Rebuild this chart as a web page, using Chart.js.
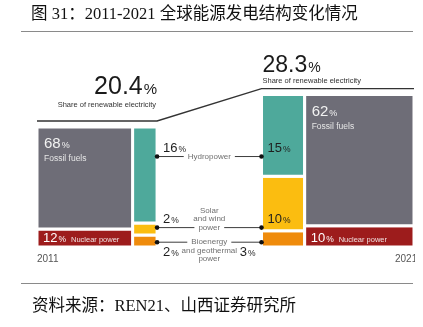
<!DOCTYPE html>
<html>
<head>
<meta charset="utf-8">
<script src="https://cdn.jsdelivr.net/npm/chart.js@4.4.0/dist/chart.umd.min.js"></script>
<style>
    body { margin: 0; width: 423px; height: 327px; position: relative; background: #fff; overflow: hidden; }
    canvas { position: absolute; left: 0; top: 0; }
    .txt { position: absolute; font-family: "Liberation Serif", "Noto Sans CJK SC", serif; font-size: 16.5px; color: #111; white-space: nowrap; }
    .rule { position: absolute; left: 21px; width: 392px; height: 0; border-top: 1.5px solid #8a8a8a; }
</style>
</head>
<body>
<canvas id="chart" width="423" height="327"></canvas>
<div class="txt" style="left:31px;top:0px;">图 31：2011-2021 全球能源发电结构变化情况</div>
<div class="rule" style="top:31px;"></div>
<div class="rule" style="top:283px;"></div>
<div class="txt" style="left:32px;top:292px;">资料来源：REN21、山西证券研究所</div>
<script>
// data
var years = ['2011', '2021'];
var renewShare = [20.4, 28.3];      // share of renewable electricity, %
var genSize = [100, 127];           // relative size of each year's block (total generation)
var fossil = [68, 62];
var nuclear = [12, 10];
var hydro = [16, 15];
var solarWind = [2, 10];
var bioGeo = [2, 3];
var renewNames = [['Hydropower'], ['Solar', 'and wind', 'power'], ['Bioenergy', 'and geothermal', 'power']];

// layout
var GAP = 87;
var LINE_OFF = 5;
var FONT = '"Liberation Sans", Arial, sans-serif';
var colors = { fossil: '#6e6d77', nuclear: '#9d1c1c', hydro: '#4ea99b', solar: '#fbbd10', bio: '#ef8b0c' };

var left = [0, genSize[0] + GAP];
var xMax = left[1] + genSize[1];

function box(xa, xb, ya, yb) {
    return [{x: xa, y: ya}, {x: xb, y: ya}, {x: xb, y: yb}, {x: xa, y: yb}, {x: xa, y: ya}];
}

function block(points, color) {
    return {
        data: points, fill: 'shape', backgroundColor: color,
        borderColor: '#fff', borderWidth: 3, borderJoinStyle: 'miter', pointRadius: 0
    };
}

// build the geometry of each year
var geo = [];
for (var i = 0; i < years.length; i++) {
    var size = genSize[i];
    var rw = size * renewShare[i] / 100;
    var g = {};
    if (i == 0) {
        g.nx0 = left[i]; g.nx1 = left[i] + size - rw; g.rx0 = g.nx1; g.rx1 = left[i] + size;
    } else {
        g.rx0 = left[i]; g.rx1 = left[i] + rw; g.nx0 = g.rx1; g.nx1 = left[i] + size;
    }
    var rTot = hydro[i] + solarWind[i] + bioGeo[i];
    g.bio = [0, size * bioGeo[i] / rTot];
    g.solar = [g.bio[1], g.bio[1] + size * solarWind[i] / rTot];
    g.hydro = [g.solar[1], size];
    var nTot = fossil[i] + nuclear[i];
    g.nuc = [0, size * nuclear[i] / nTot];
    g.fos = [g.nuc[1], size];
    g.top = size;
    geo.push(g);
}

// connector levels between the two renewable columns
var segKeys = ['hydro', 'solar', 'bio'];
var segVals = [hydro, solarWind, bioGeo];
var linkY = segKeys.map(function (k) {
    var lo = Math.max(geo[0][k][0], geo[1][k][0]);
    var hi = Math.min(geo[0][k][1], geo[1][k][1]);
    return lo + (hi - lo) * 0.4;
});

var datasets = [];

// connectors (drawn on top)
for (var k = 0; k < 3; k++) {
    datasets.push({
        data: [{x: geo[0].rx1, y: linkY[k]}, {x: geo[1].rx0, y: linkY[k]}],
        borderColor: '#3c3c3c', borderWidth: 1, fill: false,
        pointRadius: 2.3, pointBackgroundColor: '#111', pointBorderWidth: 0
    });
}

// share of renewables line
datasets.push({
    data: [
        {x: left[0], y: genSize[0] + LINE_OFF}, {x: left[0] + genSize[0], y: genSize[0] + LINE_OFF},
        {x: left[1], y: genSize[1] + LINE_OFF}, {x: left[1] + genSize[1], y: genSize[1] + LINE_OFF}
    ],
    borderColor: '#333', borderWidth: 1.4, fill: false, pointRadius: 0
});

for (var i = 0; i < geo.length; i++) {
    var g = geo[i];
    datasets.push(block(box(g.nx0, g.nx1, g.fos[0], g.fos[1]), colors.fossil));
    datasets.push(block(box(g.nx0, g.nx1, g.nuc[0], g.nuc[1]), colors.nuclear));
    datasets.push(block(box(g.rx0, g.rx1, g.hydro[0], g.hydro[1]), colors.hydro));
    datasets.push(block(box(g.rx0, g.rx1, g.solar[0], g.solar[1]), colors.solar));
    datasets.push(block(box(g.rx0, g.rx1, g.bio[0], g.bio[1]), colors.bio));
}

function pct(c, num, x, y, big, small, color, align) {
    c.fillStyle = color;
    c.textBaseline = 'alphabetic';
    c.textAlign = 'left';
    c.font = big + 'px ' + FONT;
    var w1 = c.measureText(num).width;
    c.font = small + 'px ' + FONT;
    var w2 = c.measureText('%').width;
    var x0 = align === 'right' ? x - w1 - w2 - 1 : x;
    c.font = big + 'px ' + FONT;
    c.fillText(num, x0, y);
    c.font = small + 'px ' + FONT;
    c.fillText('%', x0 + w1 + 1, y);
    return x0 + w1 + 1 + w2;
}

var labelPlugin = {
    id: 'labels',
    afterDatasetsDraw: function (chart) {
        var c = chart.ctx, X = chart.scales.x, Y = chart.scales.y;
        c.save();

        // share of renewable electricity
        var ly0 = Y.getPixelForValue(genSize[0] + LINE_OFF);
        var ly1 = Y.getPixelForValue(genSize[1] + LINE_OFF);
        var rx = X.getPixelForValue(left[0] + genSize[0]);
        pct(c, String(renewShare[0]), rx, ly0 - 27, 25, 15, '#1a1a1a', 'right');
        c.font = '7.5px ' + FONT; c.fillStyle = '#333'; c.textAlign = 'right';
        c.fillText('Share of renewable electricity', rx - 1, ly0 - 14);
        var lx = X.getPixelForValue(left[1]) + 1;
        pct(c, String(renewShare[1]), lx, ly1 - 17, 23, 14, '#1a1a1a', 'left');
        c.font = '7.5px ' + FONT; c.fillStyle = '#333'; c.textAlign = 'left';
        c.fillText('Share of renewable electricity', lx, ly1 - 6);

        // fossil and nuclear blocks
        for (var i = 0; i < geo.length; i++) {
            var g = geo[i];
            var bx = X.getPixelForValue(g.nx0) + 7;
            var ty = Y.getPixelForValue(g.top);
            pct(c, String(fossil[i]), bx, ty + 21, 15, 9, '#f2f2f2', 'left');
            c.font = '8.5px ' + FONT; c.fillStyle = '#e6e6e6'; c.textAlign = 'left';
            c.fillText('Fossil fuels', bx, ty + 34);
            var by = Y.getPixelForValue(0) - 5;
            var e = pct(c, String(nuclear[i]), bx - 1, by, 13, 8.5, '#fff', 'left');
            c.font = '7.5px ' + FONT; c.fillStyle = '#f0e0e0'; c.textAlign = 'left';
            c.fillText('Nuclear power', e + 5, by);
        }

        // renewable connectors
        var ax = X.getPixelForValue(geo[0].rx1), bx2 = X.getPixelForValue(geo[1].rx0);
        var mid = (ax + bx2) / 2;
        for (var k = 0; k < 3; k++) {
            var y = Y.getPixelForValue(linkY[k]);
            var below = k == 2;
            var numY = below ? y + 13.5 : y - 4.5;
            pct(c, String(segVals[k][0]), ax + 6, numY, 13, 8.5, '#1e1e1e', 'left');
            if (below) {
                pct(c, String(segVals[k][1]), bx2 - 6, numY, 13, 8.5, '#1e1e1e', 'right');
            } else {
                pct(c, String(segVals[k][1]), bx2 + 6, numY, 13, 8.5, '#1e1e1e', 'left');
            }
            var lines = renewNames[k];
            c.font = '8px ' + FONT;
            c.textAlign = 'center';
            c.textBaseline = 'middle';
            for (var j = 0; j < lines.length; j++) {
                var ty2 = below ? y + j * 8.5 : y - (lines.length - 1 - j) * 8.5;
                var onLine = below ? j == 0 : j == lines.length - 1;
                if (onLine) {
                    var w = c.measureText(lines[j]).width;
                    c.fillStyle = '#fff';
                    c.fillRect(mid - w / 2 - 4, ty2 - 3, w + 8, 6);
                }
                c.fillStyle = '#707070';
                c.fillText(lines[j], mid, ty2);
            }
            c.textBaseline = 'alphabetic';
        }

        // years
        c.font = '10px ' + FONT;
        c.fillStyle = '#555';
        c.textAlign = 'left';
        var yy = Y.getPixelForValue(0) + 15;
        c.fillText(years[0], X.getPixelForValue(left[0]), yy);
        c.beginPath();
        c.rect(0, 0, X.getPixelForValue(xMax) + 1, 327);
        c.clip();
        c.fillText(years[1], X.getPixelForValue(xMax) - 19, yy);
        c.restore();
    }
};

var ctx = document.getElementById('chart').getContext('2d');
var chart = new Chart(ctx, {
    type: 'line',
    data: { datasets: datasets },
    options: {
        responsive: false,
        animation: false,
        layout: { padding: { left: 37, right: 9, top: 43, bottom: 80 } },
        scales: {
            x: { type: 'linear', min: 0, max: xMax, display: false },
            y: { type: 'linear', min: 0, max: 170, display: false }
        },
        elements: { line: { tension: 0 } },
        plugins: { legend: { display: false }, tooltip: { enabled: false } }
    },
    plugins: [labelPlugin]
});
</script>
</body>
</html>
